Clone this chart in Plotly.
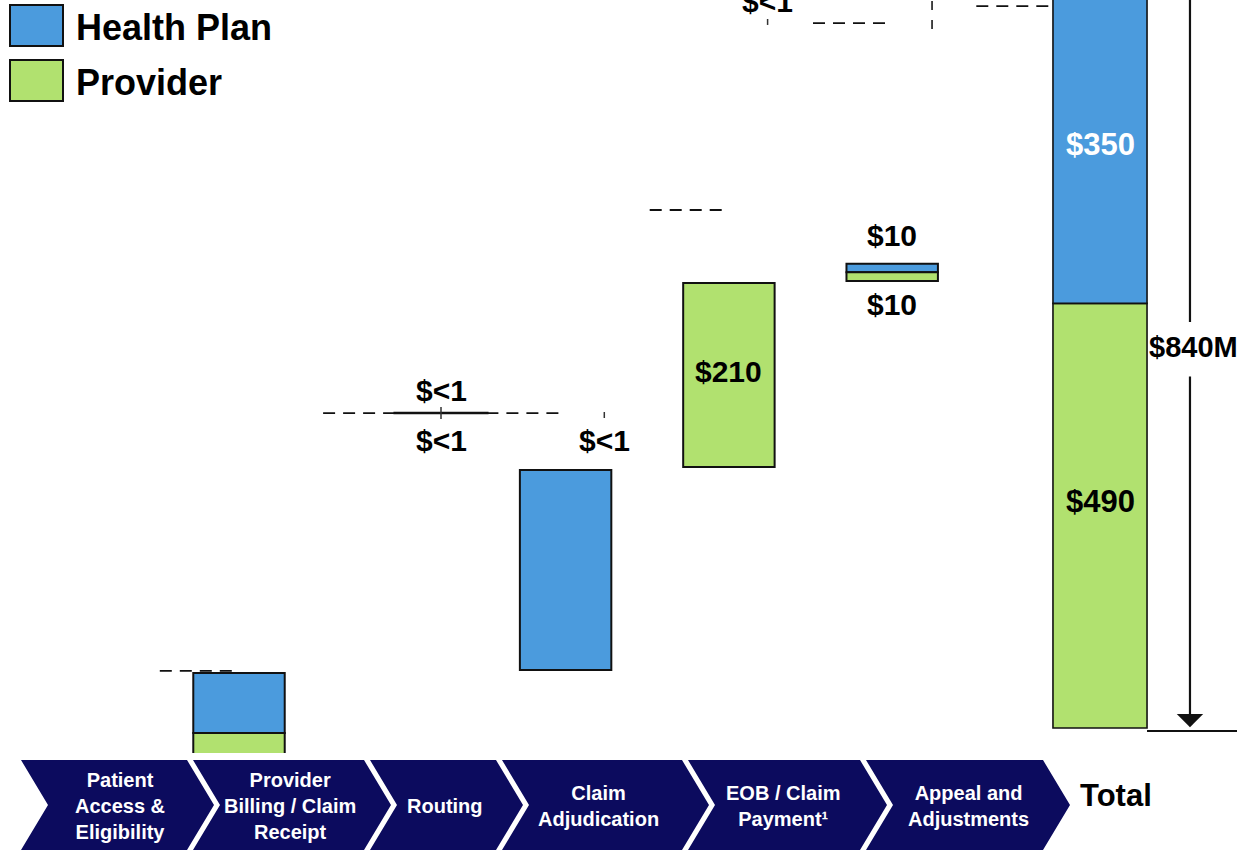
import plotly.graph_objects as go

# ---------------- data ($M) ----------------
series = ["Health Plan", "Provider"]
steps = ["Patient<br>Access &<br>Eligibility",
         "Provider<br>Billing / Claim<br>Receipt",
         "Routing",
         "Claim<br>Adjudication",
         "EOB / Claim<br>Payment¹",
         "Appeal and<br>Adjustments"]
total_name = "Total"

# Health Plan floating bars (slot index, base level, value)
hp_slots = [0, 2, 4]
hp_base = [-5.8, 66.9, 525.8]
hp_vals = [69.3, 230.8, 10.0]

# Provider floating bars
pr_slots = [0, 3, 4]
pr_base = [-80.0, 301.1, 515.8]
pr_vals = [74.2, 212.3, 10.0]

# "$<1" sliver steps
lt1_slots = [1, 2, 3]
lt1_base = [363.1, 362.0, 814.5]
lt1_vals = [0.6, 0.5, 0.5]

# Total
total_hp = 350
total_pr = 490
total_all = 840

# dashed connector levels for slots 0..5
conn_levels = [65.8, 363.4, 363.4, 597.7, 813.4, 833.0]

# small tick marks (slot, low, high)
tick_slots = [1, 2, 3]
tick_lo = [356.5, 357.7, 811.2]
tick_hi = [370.4, 364.6, 818.1]
dtick_slot = 4
dtick_lo = 806.5
dtick_hi = 840

# value labels: text, slot, use-offset flag, level, colour
labels = [
    ("$<1", 1, True, 390.0, "black"),
    ("$<1", 1, True, 332.3, "black"),
    ("$<1", 2, True, 332.3, "black"),
    ("$210", 3, False, 411.9, "black"),
    ("$10", 4, False, 567.7, "black"),
    ("$10", 4, False, 489.2, "black"),
]
top_label = ("$<1", 3)
total_labels = [("$350", 672.7, "white"), ("$490", 260.8, "black")]
total_text = "$840M"
total_text_level = 439.6
arrow_gap = (407.3, 468.5)

# ---------------- geometry / style ----------------
W, H = 1237, 850
PLOT_BOTTOM = 753
SLOT0 = 239.0
SLOTW = 163.3
K = 728.0 / total_all          # px per $M
Y_MIN = -(PLOT_BOTTOM - 728) / K
Y_MAX = total_all
X_MIN = -SLOT0 / SLOTW
X_MAX = (W - SLOT0) / SLOTW
OFF = 0.237                     # offset of the sliver steps
BAR_W = 0.56
T_X = (1100 - SLOT0) / SLOTW    # total slot
T_W = 0.576
ARROW_X = T_X + 0.551

BLUE = "#4B9BDD"
GREEN = "#B1E16F"
NAVY = "#0C0B5E"
FONT = "Liberation Sans, Arial, sans-serif"


def pxx(p):
    return p / W


def pxy(p):
    return (PLOT_BOTTOM - p) / PLOT_BOTTOM


fig = go.Figure()

outline = dict(color="#111111", width=2)

fig.add_trace(go.Bar(x=hp_slots, y=hp_vals, base=hp_base, width=BAR_W,
                     marker=dict(color=BLUE, line=outline), name=series[0],
                     showlegend=False))
fig.add_trace(go.Bar(x=pr_slots, y=pr_vals, base=pr_base, width=BAR_W,
                     marker=dict(color=GREEN, line=outline), name=series[1],
                     showlegend=False))
# visible sliver bar only for the first "$<1"
fig.add_trace(go.Bar(x=[lt1_slots[0] + OFF], y=[lt1_vals[0]], base=[lt1_base[0]],
                     width=0.57, marker=dict(color="#111111", line=dict(color="#111111", width=2)),
                     showlegend=False))
# total
fig.add_trace(go.Bar(x=[T_X], y=[total_pr], base=[0], width=T_W,
                     marker=dict(color=GREEN, line=dict(color="#111111", width=1.6)),
                     showlegend=False))
fig.add_trace(go.Bar(x=[T_X], y=[total_hp + 20], base=[total_pr], width=T_W,
                     marker=dict(color=BLUE, line=dict(color="#111111", width=1.6)),
                     showlegend=False))

# connectors
cx, cy = [], []
for i, lv in enumerate(conn_levels):
    cx += [i - 0.485, i - 0.04, None]
    cy += [lv, lv, None]
fig.add_trace(go.Scatter(x=cx, y=cy, mode="lines",
                         line=dict(color="#111111", width=1.8, dash="12px,8px"),
                         showlegend=False, hoverinfo="skip"))

# ticks
tx, ty = [], []
for s, lo, hi in zip(tick_slots, tick_lo, tick_hi):
    tx += [s + OFF, s + OFF, None]
    ty += [lo, hi, None]
fig.add_trace(go.Scatter(x=tx, y=ty, mode="lines",
                         line=dict(color="#333333", width=1.5),
                         showlegend=False, hoverinfo="skip"))
fig.add_trace(go.Scatter(x=[dtick_slot + 0.244] * 2, y=[dtick_lo, dtick_hi], mode="lines",
                         line=dict(color="#333333", width=1.8, dash="9px,10px"),
                         showlegend=False, hoverinfo="skip"))

# baseline to the right of total
fig.add_trace(go.Scatter(x=[T_X + T_W / 2, X_MAX], y=[-3.5, -3.5], mode="lines",
                         line=dict(color="#111111", width=2),
                         showlegend=False, hoverinfo="skip"))

# upper part of the total arrow
fig.add_trace(go.Scatter(x=[ARROW_X, ARROW_X], y=[arrow_gap[1], Y_MAX + 20], mode="lines",
                         line=dict(color="#111111", width=2.2),
                         showlegend=False, hoverinfo="skip"))

annotations = []
for txt, s, off, lv, col in labels:
    annotations.append(dict(x=s + (OFF if off else 0), y=lv, xref="x", yref="y",
                            xanchor="center", yanchor="middle",
                            text=f"<b>{txt}</b>", showarrow=False,
                            font=dict(family=FONT, size=30, color=col)))
annotations.append(dict(x=top_label[1] + OFF, y=Y_MAX - 0.5, xref="x", yref="y",
                        xanchor="center", yanchor="middle", yshift=-1,
                        text=f"<b>{top_label[0]}</b>", showarrow=False,
                        font=dict(family=FONT, size=30, color="black")))
for txt, lv, col in total_labels:
    annotations.append(dict(x=T_X, y=lv, xref="x", yref="y",
                            xanchor="center", yanchor="middle",
                            text=f"<b>{txt}</b>", showarrow=False,
                            font=dict(family=FONT, size=31, color=col)))

# lower part of the total arrow, with head
annotations.append(dict(x=ARROW_X, y=1.0, xref="x", yref="y",
                        ax=ARROW_X, ay=arrow_gap[0], axref="x", ayref="y",
                        text="", showarrow=True, arrowhead=1, arrowsize=2.0,
                        arrowwidth=2.2, arrowcolor="#111111"))
annotations.append(dict(x=ARROW_X + 0.02, y=total_text_level, xref="x", yref="y",
                        xanchor="center", yanchor="middle",
                        text=f"<b>{total_text}</b>", showarrow=False,
                        font=dict(family=FONT, size=29, color="black")))

shapes = []
# chevrons
lefts = [21, 193, 370, 502, 688, 866]
rights = [187, 364, 496, 682, 860, 1043]
centers = [120, 290, 445, 598, 783, 968]
D = 27
TOP, MID, BOT = 760, 805, 850
for L, R in zip(lefts, rights):
    path = (f"M{pxx(L)},{pxy(TOP)} L{pxx(R)},{pxy(TOP)} L{pxx(R + D)},{pxy(MID)} "
            f"L{pxx(R)},{pxy(BOT)} L{pxx(L)},{pxy(BOT)} L{pxx(L + D)},{pxy(MID)} Z")
    shapes.append(dict(type="path", path=path, xref="paper", yref="paper",
                       fillcolor=NAVY, line=dict(width=0), layer="above"))
for name, c in zip(steps, centers):
    annotations.append(dict(x=pxx(c), y=pxy(806), xref="paper", yref="paper",
                            xanchor="center", yanchor="middle",
                            text=f"<b>{name}</b>", showarrow=False,
                            font=dict(family=FONT, size=20, color="white")))
annotations.append(dict(x=pxx(1116), y=pxy(795), xref="paper", yref="paper",
                        xanchor="center", yanchor="middle",
                        text=f"<b>{total_name}</b>", showarrow=False,
                        font=dict(family=FONT, size=31, color="black")))

# legend
for (name, col), (y0, y1) in zip([(series[0], BLUE), (series[1], GREEN)],
                                 [(5, 46), (60, 101)]):
    shapes.append(dict(type="rect", xref="paper", yref="paper",
                       x0=pxx(10), x1=pxx(63), y0=pxy(y1), y1=pxy(y0),
                       fillcolor=col, line=dict(color="#111111", width=2)))
    annotations.append(dict(x=pxx(74), y=pxy((y0 + y1) / 2 + 2), xref="paper", yref="paper",
                            xanchor="left", yanchor="middle",
                            text=f"<b>{name}</b>", showarrow=False,
                            font=dict(family=FONT, size=36, color="black")))

fig.update_layout(
    width=W, height=H, autosize=False,
    margin=dict(l=0, r=0, t=0, b=H - PLOT_BOTTOM, pad=0),
    paper_bgcolor="white", plot_bgcolor="white",
    barmode="overlay",
    xaxis=dict(range=[X_MIN, X_MAX], visible=False, fixedrange=True),
    yaxis=dict(range=[Y_MIN, Y_MAX], visible=False, fixedrange=True),
    shapes=shapes, annotations=annotations,
    font=dict(family=FONT),
)

fig.write_html("out.html")
